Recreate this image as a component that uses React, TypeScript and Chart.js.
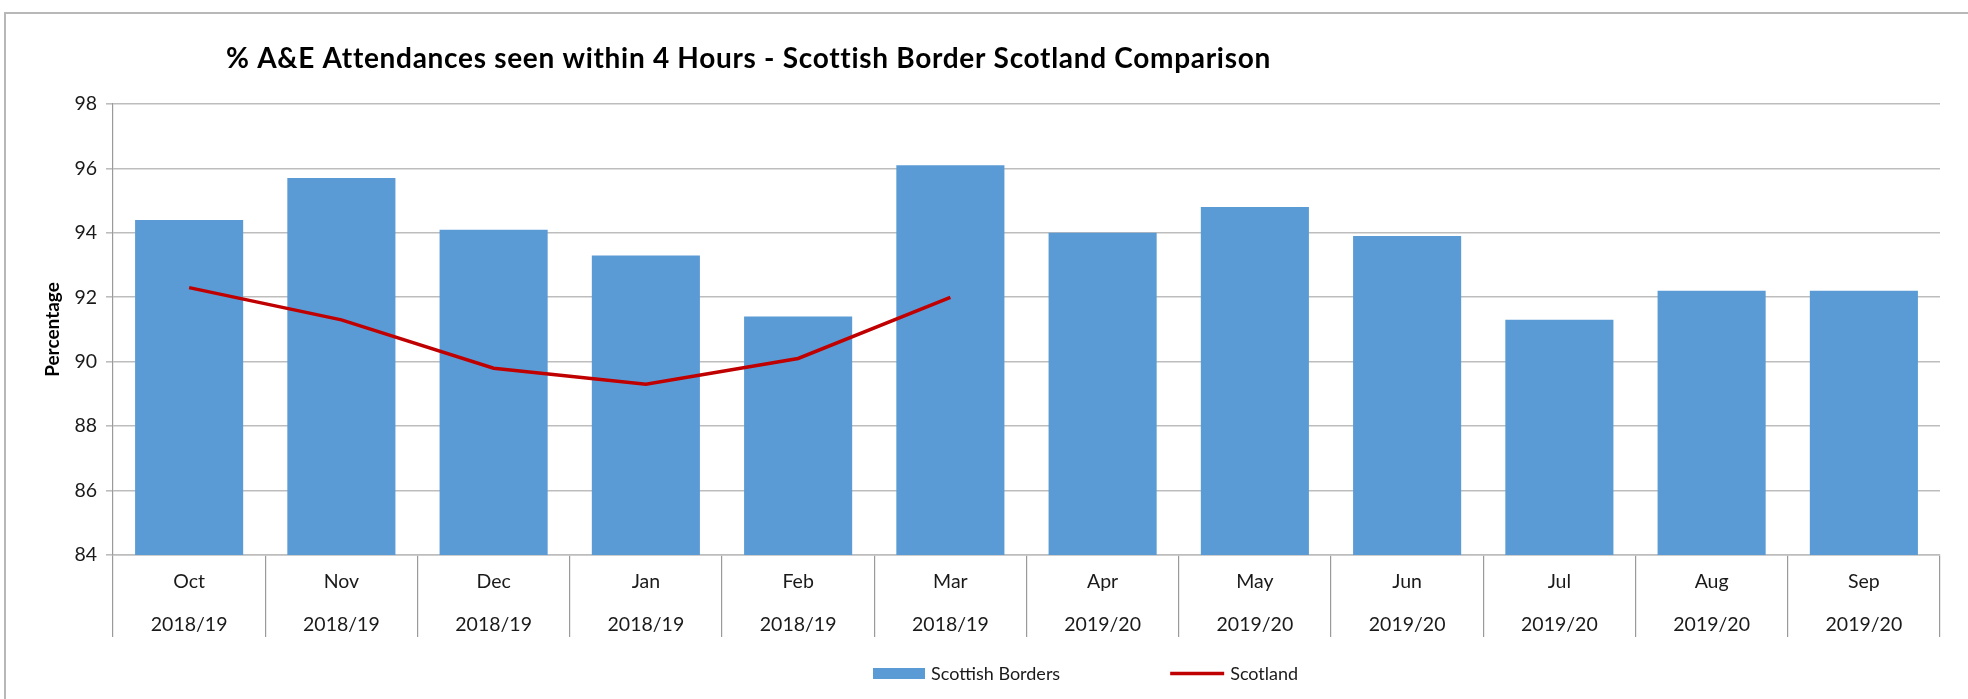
import React, { useEffect, useRef } from 'react';
import { Chart, registerables } from 'chart.js';

Chart.register(...registerables);

const months = ['Oct', 'Nov', 'Dec', 'Jan', 'Feb', 'Mar', 'Apr', 'May', 'Jun', 'Jul', 'Aug', 'Sep'];
const years = ['2018/19', '2018/19', '2018/19', '2018/19', '2018/19', '2018/19', '2019/20', '2019/20', '2019/20', '2019/20', '2019/20', '2019/20'];
const bordersValues = [94.4, 95.7, 94.1, 93.3, 91.4, 96.1, 94.0, 94.8, 93.9, 91.3, 92.2, 92.2];
const scotlandValues = [92.3, 91.3, 89.8, 89.3, 90.1, 92.0, null, null, null, null, null, null];
const yMin = 84;
const yMax = 98;
const yStep = 2;
const titleText = '% A&E Attendances seen within 4 Hours - Scottish Border Scotland Comparison';
const yAxisTitle = 'Percentage';
const seriesNames = ['Scottish Borders', 'Scotland'];

const FONT = 'Lato';
const TEXT = '#1a1a1a';

const decorPlugin = {
  id: 'decor',
  beforeDraw(chart: any) {
    const ctx = chart.ctx;
    ctx.save();
    ctx.strokeStyle = '#b8b8b8';
    ctx.lineWidth = 2;
    ctx.beginPath();
    ctx.moveTo(5, chart.height);
    ctx.lineTo(5, 13);
    ctx.lineTo(chart.width, 13);
    ctx.stroke();
    ctx.restore();
  },
  afterDraw(chart: any) {
    const ctx = chart.ctx;
    ctx.save();
    // title
    ctx.fillStyle = '#000';
    ctx.font = `bold 28px ${FONT}`;
    try { (ctx as any).letterSpacing = '0.7px'; } catch (e) { /* ignore */ }
    ctx.textBaseline = 'middle';
    ctx.textAlign = 'left';
    ctx.fillText(titleText, 226, 59);
    try { (ctx as any).letterSpacing = '0px'; } catch (e) { /* ignore */ }
    // legend
    ctx.font = `18px ${FONT}`;
    let x = 873;
    const y = 673.5;
    chart.data.datasets.forEach((d: any) => {
      let w = 52;
      if (d.type === 'line') {
        w = 54;
        ctx.strokeStyle = d.borderColor;
        ctx.lineWidth = d.borderWidth;
        ctx.beginPath();
        ctx.moveTo(x, y);
        ctx.lineTo(x + w, y);
        ctx.stroke();
      } else {
        ctx.fillStyle = d.backgroundColor;
        ctx.fillRect(x, y - 5.5, w, 11);
      }
      const tx = x + w + 6;
      ctx.fillStyle = TEXT;
      ctx.fillText(d.label, tx, y + 1);
      x = tx + ctx.measureText(d.label).width + 110;
    });
    ctx.restore();
  },
};

export default function App() {
  const canvasRef = useRef<HTMLCanvasElement | null>(null);

  useEffect(() => {
    if (!canvasRef.current) return;
    const labels = months.map((m, i) => [m, years[i]]);
    const chart = new Chart(canvasRef.current, {
      type: 'bar',
      data: {
        labels,
        datasets: [
          {
            type: 'bar',
            label: seriesNames[0],
            data: bordersValues,
            backgroundColor: '#5B9BD5',
            borderWidth: 0,
            barPercentage: 0.71,
            categoryPercentage: 1,
            order: 2,
          } as any,
          {
            type: 'line',
            label: seriesNames[1],
            data: scotlandValues,
            borderColor: '#C00000',
            backgroundColor: '#C00000',
            borderWidth: 3.5,
            pointRadius: 0,
            fill: false,
            tension: 0,
            spanGaps: false,
            order: 1,
          } as any,
        ],
      },
      options: {
        animation: false,
        responsive: true,
        maintainAspectRatio: false,
        events: [],
        layout: { padding: { top: 104, left: 0, right: 28, bottom: 62 } },
        plugins: {
          legend: { display: false },
          title: { display: false },
          tooltip: { enabled: false },
        },
        scales: {
          x: {
            offset: true,
            grid: {
              display: true,
              drawOnChartArea: false,
              drawTicks: true,
              tickLength: 82,
              color: '#9a9a9a',
              lineWidth: 1.2,
              offset: true,
            },
            border: { display: true, color: '#bdbdbd', width: 1.6 },
            ticks: {
              padding: -76.5,
              autoSkip: false,
              maxRotation: 0,
              minRotation: 0,
              color: TEXT,
              font: { family: FONT, size: 19.5, lineHeight: 42.5 / 19.5 },
            },
            afterFit: (s: any) => {
              s.height = 82;
            },
          },
          y: {
            min: yMin,
            max: yMax,
            ticks: {
              stepSize: yStep,
              padding: 9,
              color: TEXT,
              font: { family: FONT, size: 19.5 },
            },
            grid: {
              color: '#bdbdbd',
              lineWidth: 1.6,
              tickLength: 7,
              drawTicks: true,
            },
            border: { display: true, color: '#9a9a9a', width: 1.2 },
            title: {
              display: true,
              text: yAxisTitle,
              color: '#000',
              font: { family: FONT, size: 19, weight: 'bold' },
              padding: { top: 41, bottom: 0 },
            },
            afterFit: (s: any) => {
              s.width = 113;
            },
          },
        },
      },
      plugins: [decorPlugin],
    });
    if ((document as any).fonts && (document as any).fonts.ready) {
      (document as any).fonts.ready.then(() => {
        try { chart.update(); } catch (e) { /* ignore */ }
      });
    }
    return () => {
      chart.destroy();
    };
  }, []);

  return (
    <div style={{ position: 'fixed', left: 0, top: 0, width: 1968, height: 699, background: '#fff' }}>
      <canvas ref={canvasRef} />
    </div>
  );
}
